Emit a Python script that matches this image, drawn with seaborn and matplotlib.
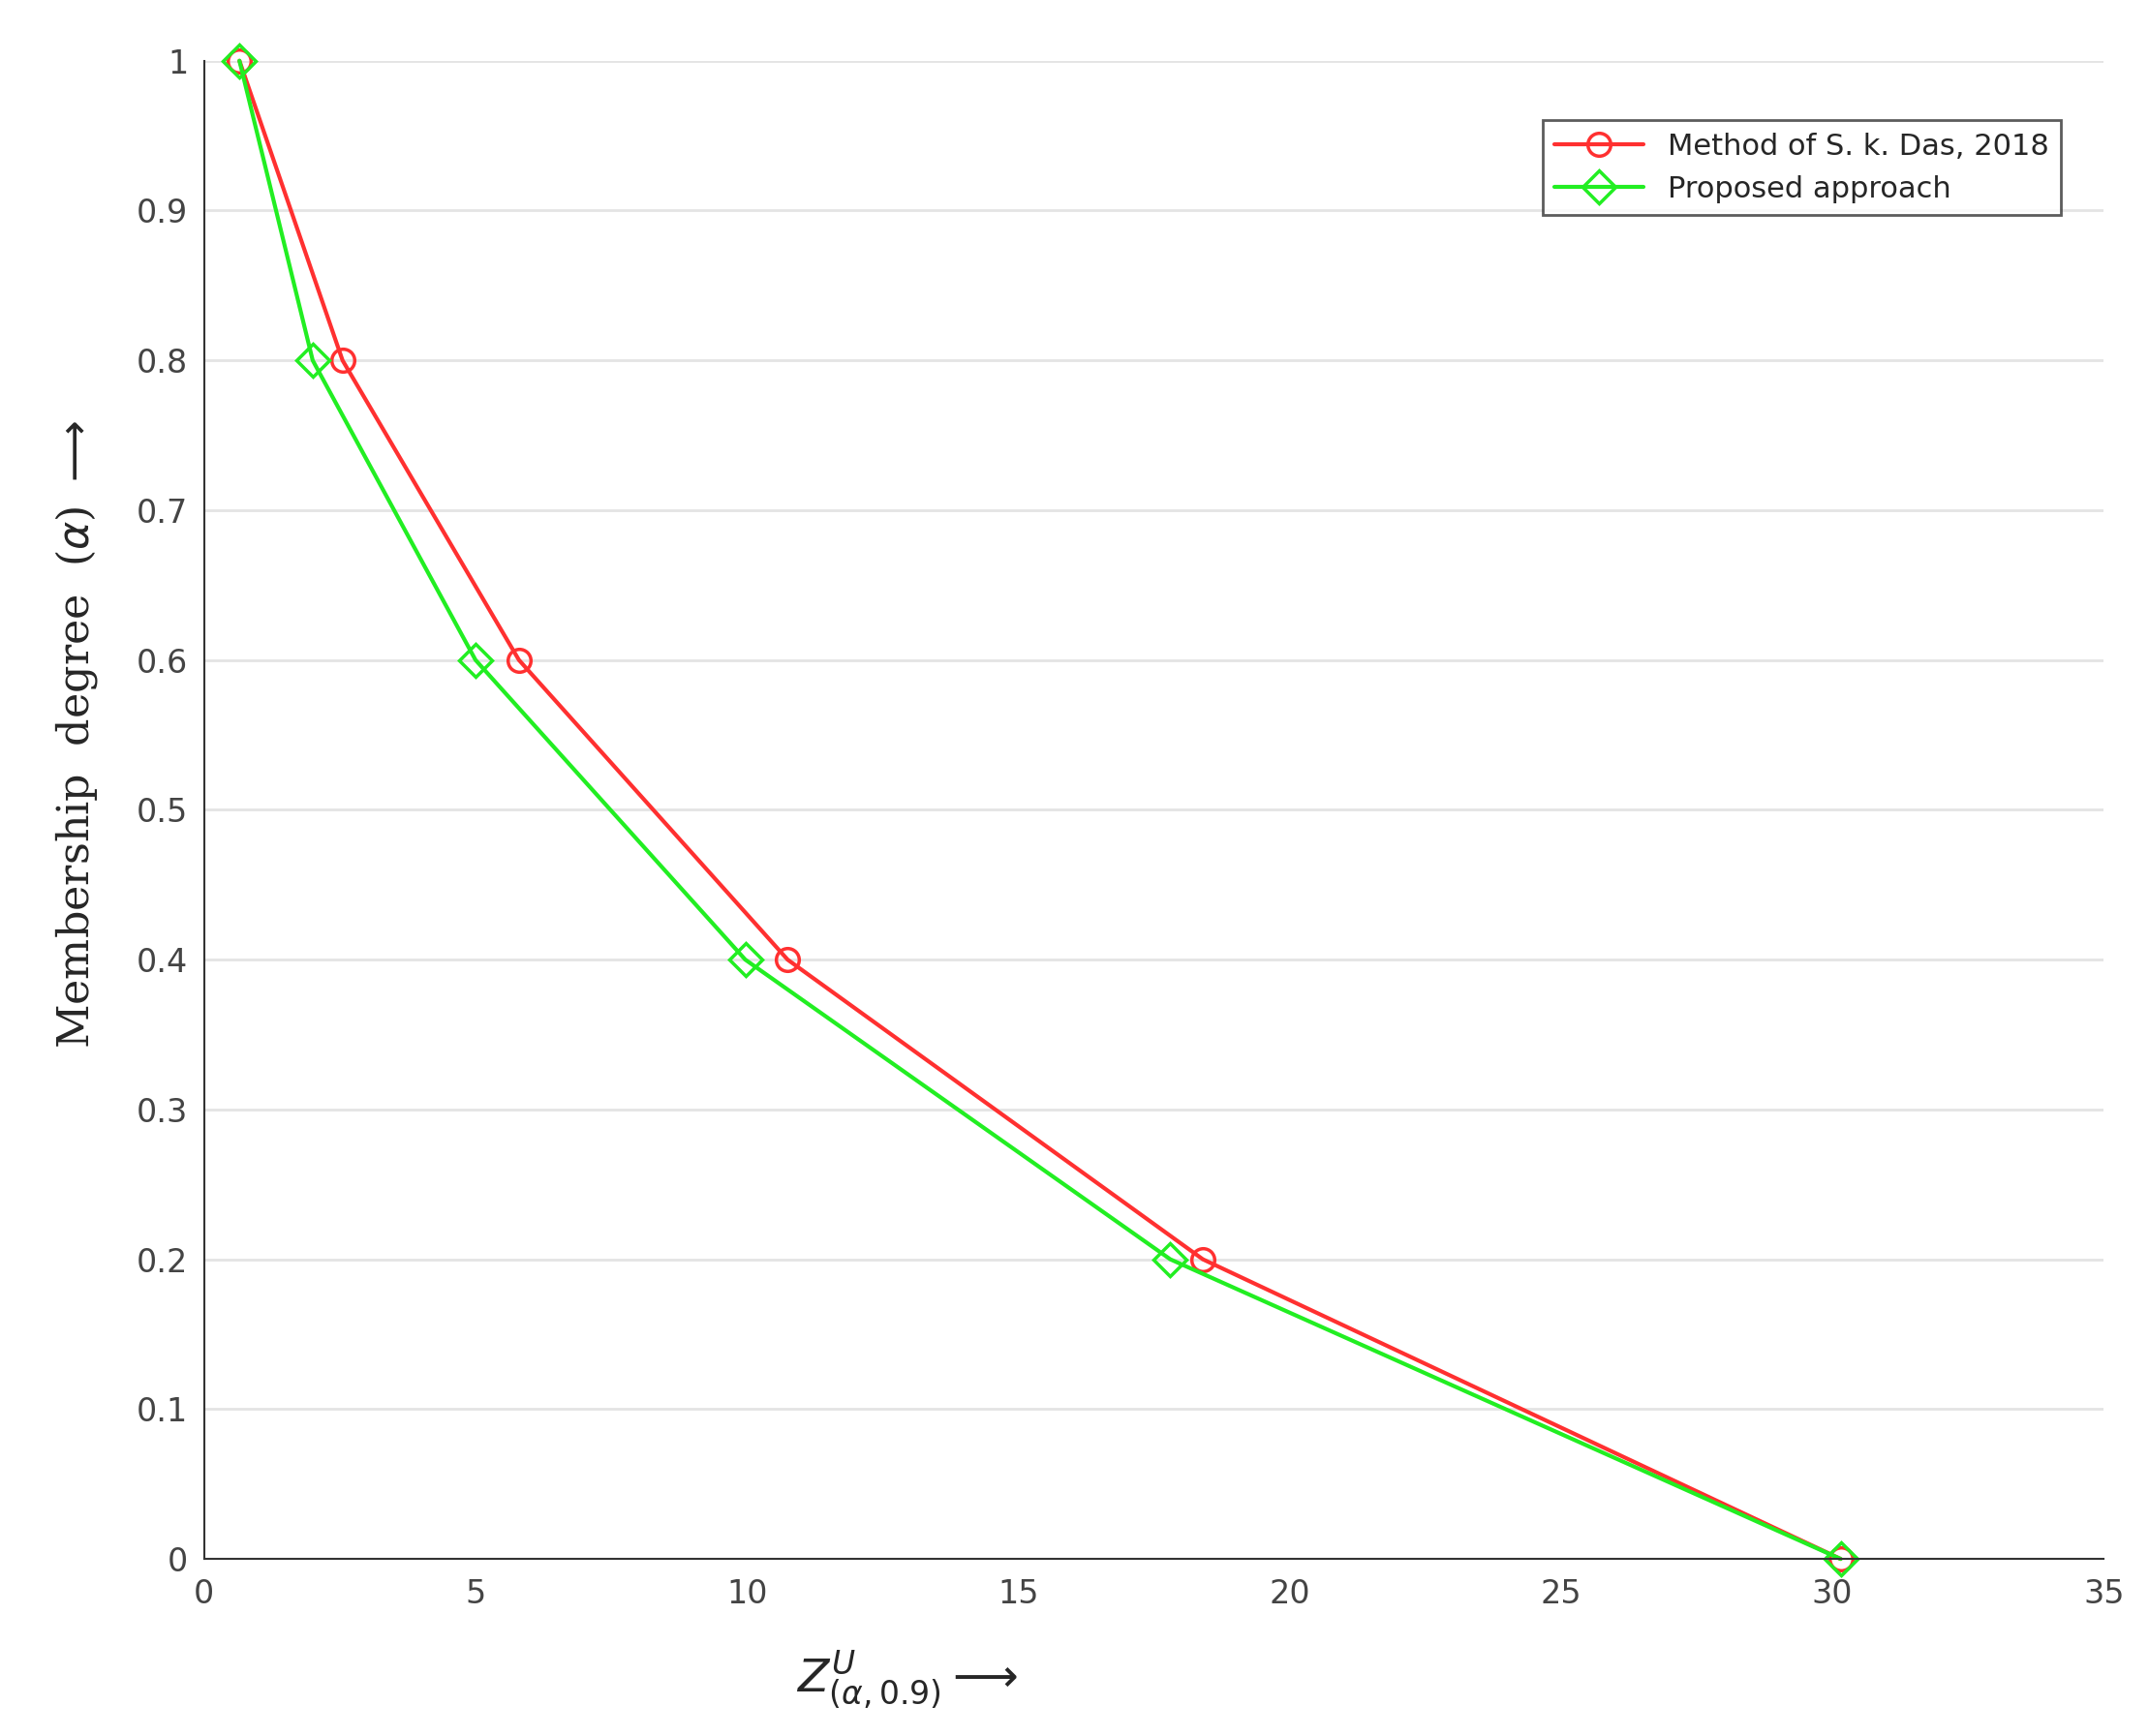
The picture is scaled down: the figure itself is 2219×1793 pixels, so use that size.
import matplotlib
matplotlib.use("Agg")
import matplotlib.pyplot as plt
import seaborn as sns
import pandas as pd

alpha = [1.0, 0.8, 0.6, 0.4, 0.2, 0.0]
das_x = [0.65, 2.55, 5.8, 10.75, 18.4, 30.15]
prop_x = [0.65, 2.0, 5.0, 9.97, 17.8, 30.15]
labels = ["Method of S. k. Das, 2018", "Proposed approach"]

sns.set_theme(style="white")
plt.rcParams['font.family'] = ['DejaVu Sans']

fig = plt.figure(figsize=(22.19, 17.93), dpi=100)
ax = fig.add_axes([0.095, 0.102, 0.884, 0.863])

df = pd.concat([
    pd.DataFrame({"x": das_x, "y": alpha, "s": labels[0]}),
    pd.DataFrame({"x": prop_x, "y": alpha, "s": labels[1]}),
])
sns.lineplot(data=df, x="x", y="y", hue="s", style="s", sort=False,
             palette={labels[0]: "#ff3030", labels[1]: "#22ee22"},
             markers={labels[0]: "o", labels[1]: "D"}, dashes=False,
             markeredgewidth=2.5, markersize=17,
             linewidth=3, ax=ax)
for line in ax.lines:
    line.set_markerfacecolor("none")
    line.set_markeredgecolor(line.get_color())
    line.set_clip_on(False)

ax.set_xlim(0, 35)
ax.set_ylim(0, 1.0)
ax.set_xticks(range(0, 36, 5))
ax.set_yticks([i / 10 for i in range(11)])
ax.set_yticklabels(["0"] + [f"{i/10:g}" for i in range(1, 10)] + ["1"])
ax.yaxis.grid(True, color="#e4e4e4", linewidth=2)
ax.tick_params(labelsize=24, colors="#444444", length=6, direction="in")
ax.tick_params(axis="x", pad=14)
ax.tick_params(axis="y", pad=12)
for s in ["top", "right"]:
    ax.spines[s].set_visible(False)
for s in ["left", "bottom"]:
    ax.spines[s].set_color("#333333")
    ax.spines[s].set_linewidth(1.5)

ax.set_xlabel(r"$Z^{U}_{(\alpha,0.9)}\longrightarrow$", fontsize=34)
ax.xaxis.set_label_coords(0.37, -0.06)
ax.set_ylabel(r"Membership  degree  ($\alpha$) $\longrightarrow$", fontsize=32,
              family="DejaVu Serif")
ax.yaxis.set_label_coords(-0.055, 0.55)

leg = ax.legend(title=None, loc="upper right", bbox_to_anchor=(0.985, 0.97),
                fontsize=22, frameon=True, fancybox=False, edgecolor="#333333",
                handlelength=3)
leg.get_frame().set_linewidth(2)

fig.savefig("out.png", dpi=100)
